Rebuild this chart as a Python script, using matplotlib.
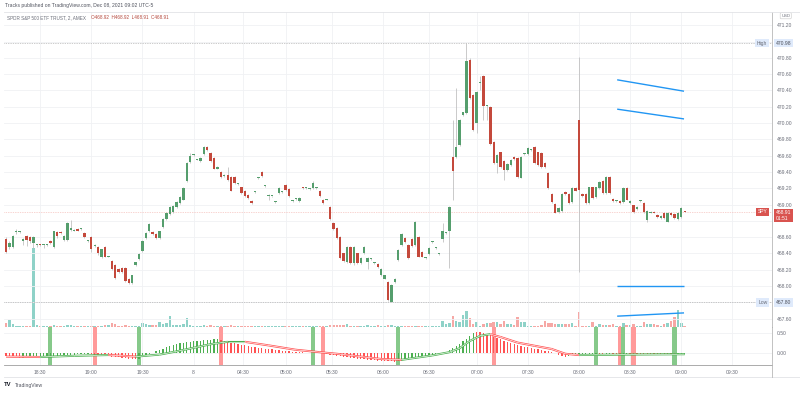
import matplotlib
matplotlib.use('Agg')
import matplotlib.pyplot as plt
from matplotlib.collections import LineCollection
import numpy as np

plt.rcParams['font.family'] = ['Liberation Sans', 'DejaVu Sans']

# 2-minute SPY bars (bar index 0..199)
opens = [
    468.58, 468.48, 468.48, 468.66, 468.66, 468.55, 468.61, 468.60, 468.53, 468.50,
    468.51, 468.50, 468.50, 468.55, 468.48, 468.66, 468.66, 468.56, 468.56, 468.69,
    468.68, 468.70, 468.70, 468.65, 468.55, 468.60, 468.49, 468.48, 468.36, 468.48,
    468.36, 468.31, 468.26, 468.21, 468.22, 468.22, 468.09, 468.04, 468.26, 468.33,
    468.43, 468.59, 468.67, 468.66, 468.64, 468.59, 468.72, 468.82, 468.88, 468.91,
    468.97, 469.02, 469.06, 469.29, 469.52, 469.61, 469.55, 469.53, 469.62, 469.71,
    469.63, 469.57, 469.44, 469.40, 469.35, 469.36, 469.34, 469.34, 469.25, 469.21,
    469.17, 469.12, 469.04, 469.15, 469.32, 469.40, 469.23, 469.10, 469.10, 469.03,
    469.14, 469.15, 469.24, 469.19, 469.04, 469.07, 469.04, 469.21, 469.20, 469.19,
    469.20, 469.20, 469.17, 469.06, 469.06, 468.97, 468.77, 468.71, 468.60, 468.40,
    468.29, 468.48, 468.28, 468.40, 468.28, 468.40, 468.29, 468.33, 468.28, 468.27,
    468.13, 468.09, 468.05, 467.80, 468.05, 468.32, 468.50, 468.59, 468.50, 468.58,
    468.50, 468.60, 468.42, 468.34, 468.39, 468.54, 468.47, 468.39, 468.58, 468.65,
    468.67, 469.58, 469.58, 469.73, 470.10, 470.12, 470.77, 470.34, 470.00, 470.49,
    470.58, 470.21, 470.20, 469.77, 469.51, 469.64, 469.53, 469.42, 469.48, 469.58,
    469.57, 469.33, 469.62, 469.62, 469.67, 469.71, 469.64, 469.63, 469.51, 469.39,
    469.13, 469.01, 468.91, 468.92, 469.15, 469.13, 469.03, 469.20, 470.04, 469.13,
    469.13, 469.02, 469.21, 469.09, 469.20, 469.29, 469.14, 469.34, 469.07, 469.04,
    469.04, 469.03, 469.20, 469.02, 468.99, 468.94, 469.04, 469.02, 468.81, 468.90,
    468.91, 468.87, 468.83, 468.90, 468.79, 468.90, 468.88, 468.82, 468.85, 468.92,
]
highs = [
    468.60, 468.55, 468.63, 468.70, 468.67, 468.59, 468.62, 468.61, 468.61, 468.52,
    468.52, 468.52, 468.52, 468.56, 468.68, 468.67, 468.67, 468.62, 468.78, 468.81,
    468.70, 468.71, 468.71, 468.66, 468.56, 468.61, 468.52, 468.49, 468.46, 468.49,
    468.37, 468.32, 468.27, 468.22, 468.23, 468.23, 468.10, 468.14, 468.30, 468.40,
    468.56, 468.66, 468.77, 468.68, 468.65, 468.68, 468.83, 468.91, 468.98, 468.99,
    469.04, 469.10, 469.21, 469.52, 469.63, 469.62, 469.56, 469.58, 469.72, 469.72,
    469.64, 469.58, 469.47, 469.41, 469.37, 469.46, 469.35, 469.35, 469.26, 469.22,
    469.18, 469.13, 469.05, 469.16, 469.34, 469.41, 469.24, 469.13, 469.11, 469.04,
    469.21, 469.16, 469.25, 469.20, 469.05, 469.08, 469.09, 469.22, 469.21, 469.20,
    469.29, 469.21, 469.18, 469.07, 469.07, 468.98, 468.78, 468.72, 468.61, 468.41,
    468.49, 468.49, 468.49, 468.41, 468.35, 468.49, 468.35, 468.34, 468.29, 468.28,
    468.22, 468.14, 468.06, 468.02, 468.10, 468.45, 468.65, 468.60, 468.51, 468.59,
    468.80, 468.61, 468.43, 468.35, 468.48, 468.55, 468.48, 468.40, 468.77, 468.66,
    468.98, 470.04, 470.43, 470.05, 470.14, 470.98, 470.80, 470.35, 470.39, 470.58,
    470.59, 470.22, 470.21, 469.78, 469.62, 469.65, 469.54, 469.51, 469.56, 469.59,
    469.58, 469.59, 469.63, 469.70, 469.68, 469.72, 469.65, 469.64, 469.52, 469.40,
    469.14, 469.02, 468.97, 469.14, 469.16, 469.14, 469.21, 469.21, 470.81, 469.14,
    469.14, 469.22, 469.22, 469.22, 469.29, 469.30, 469.35, 469.35, 469.08, 469.05,
    469.05, 469.21, 469.21, 469.05, 469.00, 468.98, 469.05, 469.03, 468.93, 468.92,
    468.92, 468.88, 468.87, 468.91, 468.91, 468.91, 468.89, 468.91, 468.97, 468.92,
]
lows = [
    468.40, 468.46, 468.47, 468.64, 468.65, 468.50, 468.49, 468.53, 468.47, 468.48,
    468.49, 468.47, 468.49, 468.52, 468.47, 468.59, 468.64, 468.55, 468.55, 468.68,
    468.67, 468.67, 468.69, 468.59, 468.54, 468.42, 468.48, 468.38, 468.34, 468.35,
    468.35, 468.20, 468.08, 468.16, 468.16, 468.05, 468.03, 468.03, 468.25, 468.32,
    468.42, 468.58, 468.66, 468.63, 468.58, 468.58, 468.71, 468.81, 468.87, 468.90,
    468.96, 469.01, 469.05, 469.28, 469.51, 469.60, 469.54, 469.52, 469.61, 469.66,
    469.52, 469.43, 469.43, 469.33, 469.34, 469.29, 469.16, 469.25, 469.24, 469.13,
    469.09, 469.07, 469.01, 469.14, 469.31, 469.34, 469.22, 469.06, 469.09, 469.02,
    469.13, 469.14, 469.17, 469.09, 469.03, 469.06, 469.03, 469.19, 469.19, 469.18,
    469.19, 469.19, 469.09, 469.01, 469.05, 468.81, 468.69, 468.58, 468.33, 468.30,
    468.28, 468.27, 468.26, 468.27, 468.27, 468.39, 468.21, 468.32, 468.27, 468.22,
    468.12, 468.08, 467.82, 467.80, 468.04, 468.31, 468.49, 468.53, 468.33, 468.48,
    468.49, 468.35, 468.35, 468.33, 468.38, 468.53, 468.46, 468.38, 468.54, 468.64,
    468.22, 469.06, 469.57, 469.72, 470.09, 470.11, 470.30, 469.90, 469.88, 470.40,
    470.04, 470.04, 469.73, 469.50, 469.39, 469.45, 469.30, 469.41, 469.47, 469.55,
    469.33, 469.32, 469.61, 469.61, 469.66, 469.50, 469.47, 469.45, 469.45, 469.19,
    469.02, 468.89, 468.90, 468.91, 469.12, 469.01, 469.02, 469.16, 468.17, 469.09,
    469.01, 469.01, 469.07, 469.08, 469.19, 469.13, 469.13, 469.13, 469.03, 469.03,
    469.01, 469.02, 469.05, 469.01, 468.90, 468.93, 469.03, 468.90, 468.78, 468.89,
    468.89, 468.84, 468.82, 468.82, 468.78, 468.86, 468.82, 468.81, 468.84, 468.91,
]
closes = [
    468.42, 468.53, 468.61, 468.67, 468.66, 468.58, 468.56, 468.55, 468.60, 468.51,
    468.50, 468.51, 468.51, 468.53, 468.67, 468.61, 468.65, 468.61, 468.77, 468.71,
    468.68, 468.68, 468.70, 468.60, 468.55, 468.45, 468.50, 468.40, 468.45, 468.36,
    468.36, 468.21, 468.10, 468.17, 468.17, 468.06, 468.04, 468.13, 468.29, 468.39,
    468.55, 468.65, 468.76, 468.64, 468.59, 468.67, 468.82, 468.90, 468.97, 468.98,
    469.03, 469.09, 469.20, 469.51, 469.60, 469.61, 469.55, 469.57, 469.71, 469.67,
    469.53, 469.44, 469.46, 469.34, 469.36, 469.30, 469.17, 469.26, 469.25, 469.14,
    469.10, 469.08, 469.02, 469.15, 469.33, 469.35, 469.23, 469.10, 469.10, 469.03,
    469.20, 469.15, 469.18, 469.10, 469.04, 469.07, 469.08, 469.20, 469.20, 469.19,
    469.26, 469.20, 469.10, 469.02, 469.06, 468.82, 468.70, 468.59, 468.34, 468.31,
    468.48, 468.28, 468.48, 468.28, 468.34, 468.48, 468.34, 468.33, 468.28, 468.23,
    468.21, 468.13, 467.83, 468.01, 468.09, 468.44, 468.64, 468.54, 468.34, 468.49,
    468.79, 468.36, 468.36, 468.34, 468.47, 468.54, 468.47, 468.39, 468.67, 468.65,
    468.97, 469.41, 469.71, 470.04, 470.13, 470.76, 470.31, 469.91, 470.38, 470.49,
    470.21, 470.21, 469.74, 469.51, 469.61, 469.46, 469.42, 469.50, 469.55, 469.56,
    469.34, 469.58, 469.62, 469.69, 469.67, 469.51, 469.48, 469.46, 469.46, 469.20,
    469.03, 468.90, 468.96, 469.13, 469.13, 469.02, 469.20, 469.17, 469.18, 469.10,
    469.02, 469.21, 469.08, 469.21, 469.28, 469.14, 469.34, 469.14, 469.04, 469.04,
    469.02, 469.20, 469.06, 469.04, 468.91, 468.97, 469.04, 468.91, 468.92, 468.91,
    468.90, 468.85, 468.86, 468.83, 468.90, 468.87, 468.83, 468.90, 468.96, 468.91,
]
# volume, relative units
volumes = [
    4, 7, 3, 1.5, 1.5, 1, 1.5, 1, 79, 2,
    1.5, 1.5, 1.5, 1.5, 2, 1.5, 1, 1.5, 2.5, 2.5,
    1.5, 1, 1.5, 1.5, 1, 1.5, 1, 1.5, 1.5, 2,
    2, 4, 3, 1.5, 1.5, 2, 1.5, 1, 1.5, 1.5,
    4, 3, 2.5, 2.5, 2, 5, 3, 4, 11, 2,
    2, 2, 3, 9, 2, 1.5, 1, 1.5, 2, 1.5,
    2, 1.5, 1, 1.5, 1, 1.5, 2, 1.5, 1, 1.5,
    1.5, 1, 1.5, 1, 1, 1.5, 1, 1, 1, 1,
    1.5, 1, 1.5, 1.5, 1, 1, 1, 1.5, 1, 1,
    1.5, 1, 1.5, 1.5, 1, 2, 2, 2, 2.5, 2,
    3, 1.5, 1.5, 1.5, 1, 1.5, 2, 1, 1, 2,
    1.5, 1.5, 2.5, 2, 1.5, 1.5, 1.5, 1, 1.5, 1,
    1.5, 1.5, 1, 1, 1, 1, 1, 1, 6, 3,
    4, 11, 6, 5, 12, 16, 9, 3, 5, 1,
    3, 4, 4, 5, 5, 3, 6, 3, 3, 2,
    10, 5, 5, 1.5, 1, 1.5, 1.5, 2, 6, 4,
    4, 3, 3, 3, 3, 3, 4, 1, 15, 1,
    1.5, 1, 5, 1, 3, 2, 2, 2, 3, 1,
    1.5, 4, 2, 2, 3, 1, 1, 5, 3, 3,
    3, 2, 1, 3, 4, 6, 10, 17, 4, 1,
]
# lower study: histogram
hist = [
    -0.08, -0.09, -0.10, -0.11, -0.12, -0.115, -0.11, -0.105, -0.10, -0.095,
    -0.09, -0.085, -0.08, -0.075, -0.07, -0.065, -0.06, -0.055, -0.05, -0.045,
    -0.04, -0.035, -0.03, -0.025, -0.02, -0.03, -0.04, -0.05, -0.06, -0.07,
    -0.08, -0.09, -0.10, -0.11, -0.12, -0.13, -0.14, -0.15, -0.16, -0.14,
    -0.11, -0.07, -0.03, 0.01, 0.05, 0.08, 0.11, 0.14, 0.17, 0.20,
    0.22, 0.24, 0.26, 0.27, 0.28, 0.29, 0.30, 0.31, 0.32, 0.33,
    0.335, 0.34, 0.345, 0.33, 0.31, 0.29, 0.27, 0.25, 0.23, 0.21,
    0.19, 0.17, 0.15, 0.14, 0.13, 0.12, 0.11, 0.10, 0.09, 0.08,
    0.07, 0.06, 0.05, 0.04, 0.035, 0.03, 0.02, 0.015, 0.01, 0.005,
    0.01, 0.012, 0.013, 0.00, -0.02, -0.04, -0.05, -0.07, -0.08, -0.10,
    -0.11, -0.12, -0.13, -0.14, -0.15, -0.16, -0.17, -0.18, -0.185, -0.19,
    -0.195, -0.20, -0.205, -0.21, -0.215, -0.20, -0.19, -0.18, -0.17, -0.155,
    -0.14, -0.12, -0.10, -0.08, -0.06, -0.045, -0.03, -0.015, 0.00, 0.03,
    0.07, 0.12, 0.17, 0.23, 0.29, 0.36, 0.43, 0.50, 0.53, 0.53,
    0.51, 0.48, 0.45, 0.41, 0.37, 0.34, 0.31, 0.28, 0.25, 0.22,
    0.20, 0.18, 0.16, 0.14, 0.12, 0.10, 0.09, 0.07, 0.05, 0.04,
    0.02, 0.00, -0.04, -0.08, -0.09, -0.07, -0.06, -0.05, -0.04, -0.04,
    -0.03, -0.03, -0.03, -0.03, -0.03, -0.03, -0.03, -0.03, -0.03, -0.03,
    -0.03, -0.03, -0.03, -0.04, -0.04, -0.04, -0.04, -0.04, -0.05, -0.05,
    -0.05, -0.05, -0.05, -0.05, -0.05, -0.05, -0.05, -0.04, -0.04, -0.04,
]
hist_run_start = [0, 5, 25, 39, 63, 90, 93, 115, 138, 165, 174, 176, 178, 181, 183, 197]
hist_run_color = ['r', 'g', 'r', 'g', 'r', 'g', 'r', 'g', 'r', 'g', 'r', 'g', 'r', 'g', 'r', 'g']
signal_x = [0, 10, 20, 30, 38, 45, 50, 55, 60, 65, 70, 77, 85, 92, 97, 103, 110, 116,
            125, 130, 133, 136, 139, 142, 145, 150, 155, 160, 164, 168, 180, 199]
signal_v = [-0.09, -0.10, -0.07, -0.05, -0.09, -0.04, 0.04, 0.13, 0.22, 0.28, 0.28, 0.19,
            0.08, 0.02, -0.02, -0.08, -0.15, -0.17, -0.06, 0.02, 0.12, 0.30, 0.43, 0.47,
            0.40, 0.26, 0.18, 0.10, -0.02, -0.05, -0.04, -0.03]
alert_x = [13, 26, 39, 63, 90, 93, 115, 143, 173, 180, 181, 184, 196]
alert_up = [1, 0, 1, 0, 1, 0, 1, 0, 1, 0, 1, 0, 1]

time_ticks = [10, 25, 40, 55, 69.5, 82, 95.5, 110.5, 124, 138, 153, 168, 183, 198, 213]
time_labels = ['18:30', '19:00', '19:30', '8', '04:30', '05:00', '05:30', '06:00',
               '06:30', '07:00', '07:30', '08:00', '08:30', '09:00', '09:30']
price_ticks = [467.6, 467.8, 468.0, 468.2, 468.4, 468.6, 468.8, 469.0, 469.2, 469.4,
               469.6, 469.8, 470.0, 470.2, 470.4, 470.6, 470.8, 471.0, 471.2]
hidden_ticks = [467.8, 468.8, 471.0]
day_high = 470.98
day_low = 467.80
last_price = 468.91
# user drawn lines: (x0, y0, x1, y1)
drawn_lines = [(179.2, 470.53, 198.8, 470.39), (179.2, 470.17, 198.8, 470.05),
               (179.2, 468.00, 198.8, 468.00), (179.2, 467.63, 198.8, 467.67)]

GREEN = '#559e6d'
RED = '#c4493c'
WICK = '#bcbcbc'
TXT = '#6a6d78'
GRID = '#f0f1f4'
FS = 3.6

n = len(closes)
x = np.arange(n)
o = np.array(opens); h = np.array(highs); l = np.array(lows); c = np.array(closes)
up = c >= o

fig = plt.figure(figsize=(8, 3.93), dpi=100)
W, H = 800.0, 393.0
rect_main = [4 / W, (H - 327) / H, 768 / W, 315 / H]
rect_ind = [4 / W, (H - 365) / H, 768 / W, 38 / H]
xlim = (-0.6, 224.6)

# volume (behind)
axv = fig.add_axes(rect_main)
axv.set_xlim(*xlim)
axv.set_ylim(0, 315)
axv.axis('off')
axv.bar(x, volumes, width=0.72, color=np.where(up, '#8fd2c8', '#f6a8a5'), linewidth=0)

ax = fig.add_axes(rect_main, facecolor='none')
ax.set_xlim(*xlim)
ax.set_ylim(467.497, 471.362)
ax.vlines(x, l, h, color=WICK, lw=0.55, zorder=2)
body_lo = np.minimum(o, c)
body_h = np.maximum(np.abs(c - o), 0.012)
ax.bar(x, body_h, bottom=body_lo, width=0.7, color=np.where(up, GREEN, RED),
       linewidth=0, zorder=3)

for lvl, col in [(day_high, '#9a9a9a'), (day_low, '#9a9a9a'), (last_price, '#f2a9a3')]:
    ax.axhline(lvl, color=col, lw=0.5, ls=(0, (1, 1.5)), zorder=1)

for x0, y0, x1, y1 in drawn_lines:
    ax.plot([x0, x1], [y0, y1], color='#2196f3', lw=1.0, solid_capstyle='butt', zorder=4)

ax.set_xticks(time_ticks)
ax.set_yticks(price_ticks)
ax.set_yticklabels(['' if p in hidden_ticks else f'{p:.2f}' for p in price_ticks])
ax.yaxis.tick_right()
ax.tick_params(axis='y', length=0, pad=3.2, labelsize=FS, labelcolor=TXT)
ax.tick_params(axis='x', length=0, labelbottom=False)
ax.grid(True, color=GRID, lw=0.6)
ax.set_axisbelow(True)
for s in ['top', 'left']:
    ax.spines[s].set_visible(False)
ax.spines['right'].set_color('#b8b8b8')
ax.spines['right'].set_linewidth(0.6)
ax.spines['bottom'].set_color('#9e9e9e')
ax.spines['bottom'].set_linewidth(0.6)

yt = ax.get_yaxis_transform()
box_kw = dict(boxstyle='square,pad=0.35', ec='none')
ax.text(0.994, day_high, 'High', transform=yt, ha='right', va='center', fontsize=FS,
        color=TXT, bbox=dict(fc='#dfeafb', **box_kw), zorder=6)
ax.text(1.0055, day_high, f'{day_high:.2f}', transform=yt, ha='left', va='center',
        fontsize=FS, color='#4a4d58', bbox=dict(fc='#dfeafb', **box_kw), clip_on=False)
ax.text(0.994, day_low, 'Low', transform=yt, ha='right', va='center', fontsize=FS,
        color=TXT, bbox=dict(fc='#dfeafb', **box_kw), zorder=6)
ax.text(1.0055, day_low, f'{day_low:.2f}', transform=yt, ha='left', va='center',
        fontsize=FS, color='#4a4d58', bbox=dict(fc='#dfeafb', **box_kw), clip_on=False)
ax.text(0.994, last_price, 'SPY', transform=yt, ha='right', va='center', fontsize=FS,
        color='white', bbox=dict(fc='#d9534f', **box_kw), zorder=6)
ax.text(1.0055, last_price - 0.045, f'{last_price:.2f}\n01:51', transform=yt, ha='left',
        va='center', fontsize=FS, color='white', linespacing=1.1,
        bbox=dict(fc='#d9534f', **box_kw), clip_on=False)
ax.text(1.012, 0.988, 'USD', transform=ax.transAxes, ha='left', va='center', fontsize=3.0,
        color=TXT, bbox=dict(boxstyle='round,pad=0.25', fc='white', ec='#c8c8c8', lw=0.4),
        clip_on=False)

# lower pane
axi = fig.add_axes(rect_ind)
axi.set_xlim(*xlim)
axi.set_ylim(-0.30, 0.65)
for xa, ua in zip(alert_x, alert_up):
    axi.axvspan(xa - 0.6, xa + 0.6, color='#86c98a' if ua else '#ff9a9a', lw=0, zorder=1)
run_end = hist_run_start[1:] + [n]
hist_cols = []
for s, e, col in zip(hist_run_start, run_end, hist_run_color):
    hist_cols += [('#4caf50' if col == 'g' else '#ff5252')] * (e - s)
axi.bar(x, hist, width=0.38, color=hist_cols, linewidth=0, zorder=3)
pts = np.column_stack([signal_x, signal_v])
segs = np.stack([pts[:-1], pts[1:]], axis=1)
seg_cols = ['#4caf50' if b >= a else '#ff5252' for a, b in zip(signal_v[:-1], signal_v[1:])]
axi.add_collection(LineCollection(segs, colors=seg_cols, linewidths=1.5, zorder=4))
axi.add_collection(LineCollection(segs, colors='white', linewidths=0.45, zorder=5))
axi.set_yticks([0.0, 0.5])
axi.set_yticklabels(['0.00', '0.50'])
axi.yaxis.tick_right()
axi.tick_params(axis='y', length=0, pad=3.2, labelsize=FS, labelcolor=TXT)
axi.set_xticks(time_ticks)
axi.set_xticklabels(time_labels)
axi.tick_params(axis='x', length=0, pad=3.5, labelsize=FS, labelcolor=TXT)
axi.grid(True, color=GRID, lw=0.6)
axi.set_axisbelow(True)
for s in ['top', 'left']:
    axi.spines[s].set_visible(False)
axi.spines['right'].set_color('#b8b8b8')
axi.spines['right'].set_linewidth(0.6)
axi.spines['bottom'].set_color('#9e9e9e')
axi.spines['bottom'].set_linewidth(0.6)

# frame lines around the time scale and header
fig.add_artist(plt.Line2D([4 / W, 1], [1 - 12 / H, 1 - 12 / H], color='#e2e3e6', lw=0.6))
fig.add_artist(plt.Line2D([4 / W, 1], [1 - 377 / H, 1 - 377 / H], color='#e2e3e6', lw=0.6))
fig.add_artist(plt.Line2D([772 / W, 772 / W], [1 - 377 / H, 1 - 365 / H], color='#b8b8b8', lw=0.6))

fig.text(5 / W, 1 - 6 / H, 'Tracks published on TradingView.com, Dec 08, 2021 09:02 UTC-5',
         fontsize=FS, color='#50535e', va='center')
fig.text(7 / W, 1 - 17.5 / H, 'SPDR S&P 500 ETF TRUST, 2, AMEX', fontsize=3.3,
         color=TXT, va='center')
fig.text(91 / W, 1 - 17.5 / H,
         f'O{opens[-1]:.2f}  H{highs[-1]:.2f}  L{lows[-1]:.2f}  C{closes[-1]:.2f}',
         fontsize=3.3, color='#b5473b', va='center')
fig.text(4 / W, 1 - 385 / H, 'TV', fontsize=4.2, color='#131722', va='center',
         fontweight='bold')
fig.text(15 / W, 1 - 385 / H, 'TradingView', fontsize=FS, color='#50535e', va='center')

fig.savefig('out.png', dpi=100, facecolor='white')
